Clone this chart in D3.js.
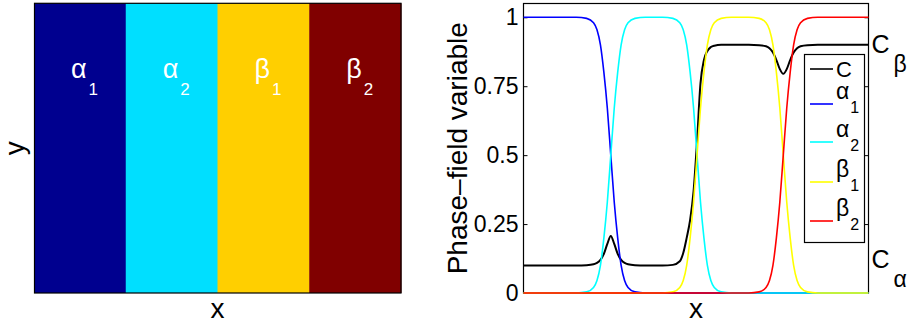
<!DOCTYPE html>
<html>
<head>
<meta charset="utf-8">
<script src="https://cdn.jsdelivr.net/npm/d3@7"></script>
<style>
  body { margin: 0; background: #fff; }
  svg { display: block; font-family: "Liberation Sans", Arial, Helvetica, sans-serif; }
</style>
</head>
<body>
<div id="chart"></div>
<script>
// left panel: the four phase regions
const phaseBase = ['α', 'α', 'β', 'β'];
const phaseSub = ['1', '2', '1', '2'];
const phaseFill = ['#00008F', '#00DFFF', '#FFCF00', '#800000'];

// right panel: profiles along x
const xs = [0, 5, 10,
  15.3, 18.3, 20.3, 21.3, 22.3, 23.3, 24.3, 25.3, 26.3, 27.3, 28.3, 29.3, 30.3, 32.3, 35.3,
  37.8,
  40.3, 43.3, 45.3, 46.3, 47.3, 48.3, 49.3, 50.3, 51.3, 52.3, 53.3, 54.3, 55.3, 57.3, 60.3,
  62.8,
  65.3, 68.3, 70.3, 71.3, 72.3, 73.3, 74.3, 75.3, 76.3, 77.3, 78.3, 79.3, 80.3, 82.3, 85.3,
  90, 95, 100];

const cValues = [0.1, 0.1, 0.1,
  0.1, 0.101, 0.104, 0.109, 0.12, 0.142, 0.178, 0.207, 0.178, 0.142, 0.12, 0.109, 0.104, 0.101, 0.1,
  0.1,
  0.1, 0.102, 0.115, 0.145, 0.2, 0.265, 0.37, 0.55, 0.76, 0.845, 0.878, 0.892, 0.897, 0.9, 0.9,
  0.9,
  0.9, 0.899, 0.895, 0.888, 0.872, 0.845, 0.812, 0.795, 0.812, 0.845, 0.872, 0.888, 0.895, 0.899, 0.9,
  0.9, 0.9, 0.9];

const alpha1 = [1, 1, 1,
  1, 0.996, 0.98, 0.955, 0.9, 0.8, 0.67, 0.5, 0.33, 0.2, 0.1, 0.045, 0.02, 0.004, 0,
  0,
  0, 0, 0, 0, 0, 0, 0, 0, 0, 0, 0, 0, 0, 0, 0,
  0,
  0, 0, 0, 0, 0, 0, 0, 0, 0, 0, 0, 0, 0, 0, 0,
  0, 0, 0];

const alpha2 = [0, 0, 0,
  0, 0.004, 0.02, 0.045, 0.1, 0.2, 0.33, 0.5, 0.67, 0.8, 0.9, 0.955, 0.98, 0.996, 1,
  1,
  1, 0.996, 0.98, 0.955, 0.9, 0.8, 0.67, 0.5, 0.33, 0.2, 0.1, 0.045, 0.02, 0.004, 0,
  0,
  0, 0, 0, 0, 0, 0, 0, 0, 0, 0, 0, 0, 0, 0, 0,
  0, 0, 0];

const beta1 = [0, 0, 0,
  0, 0, 0, 0, 0, 0, 0, 0, 0, 0, 0, 0, 0, 0, 0,
  0,
  0, 0.004, 0.02, 0.045, 0.1, 0.2, 0.33, 0.5, 0.67, 0.8, 0.9, 0.955, 0.98, 0.996, 1,
  1,
  1, 0.996, 0.98, 0.955, 0.9, 0.8, 0.67, 0.5, 0.33, 0.2, 0.1, 0.045, 0.02, 0.004, 0,
  0, 0, 0];

const beta2 = [0, 0, 0,
  0, 0, 0, 0, 0, 0, 0, 0, 0, 0, 0, 0, 0, 0, 0,
  0,
  0, 0, 0, 0, 0, 0, 0, 0, 0, 0, 0, 0, 0, 0, 0,
  0,
  0, 0.004, 0.02, 0.045, 0.1, 0.2, 0.33, 0.5, 0.67, 0.8, 0.9, 0.955, 0.98, 0.996, 1,
  1, 1, 1];

const seriesBase = ['C', 'α', 'α', 'β', 'β'];
const seriesSub = ['', '1', '2', '1', '2'];
const seriesColor = ['#000000', '#0000FF', '#00FFFF', '#FFFF00', '#FF0000'];
const seriesValues = [cValues, alpha1, alpha2, beta1, beta2];

const yTicks = [0, 0.25, 0.5, 0.75, 1];
const yTickLabels = ['0', '0.25', '0.5', '0.75', '1'];

// limit labels on the right side
const limitSub = ['β', 'α'];
const limitAt = [0.87, 0.09];

const W = 908, H = 324;
const svg = d3.select('#chart').append('svg')
  .attr('width', W).attr('height', H);

// ---------- left panel ----------
const L = {left: 34, right: 401, top: 3.3, bottom: 293};
const xb = d3.scaleBand().domain(d3.range(phaseFill.length)).range([L.left, L.right]);

svg.append('g').selectAll('rect')
  .data(phaseFill)
  .join('rect')
  .attr('x', (d, i) => xb(i))
  .attr('y', L.top)
  .attr('width', xb.bandwidth() + 0.5)
  .attr('height', L.bottom - L.top)
  .attr('fill', d => d);

svg.append('rect')
  .attr('x', L.left + 0.5).attr('y', L.top)
  .attr('width', L.right - L.left - 0.5).attr('height', L.bottom - L.top)
  .attr('fill', 'none').attr('stroke', '#000').attr('stroke-width', 1.2);

const phaseLbl = svg.append('g').selectAll('text')
  .data(phaseBase)
  .join('text')
  .attr('x', (d, i) => xb(i) + 37)
  .attr('y', 78)
  .attr('fill', '#fff')
  .style('font-size', '27px');
phaseLbl.append('tspan').text(d => d);
phaseLbl.append('tspan')
  .attr('dx', 2).attr('dy', 17)
  .style('font-size', '17px')
  .text((d, i) => phaseSub[i]);

svg.append('text')
  .attr('transform', `translate(24,${(L.top + L.bottom) / 2}) rotate(-90)`)
  .attr('text-anchor', 'middle')
  .style('font-size', '28px')
  .text('y');
svg.append('text')
  .attr('x', (L.left + L.right) / 2).attr('y', 318)
  .attr('text-anchor', 'middle')
  .style('font-size', '28px')
  .text('x');

// ---------- right panel ----------
const R = {left: 523.5, right: 868.5, top: 3.5, bottom: 293};
const x = d3.scaleLinear().domain([0, 100]).range([R.left, R.right]);
const y = d3.scaleLinear().domain([0, 1.05]).range([R.bottom, R.top]);

const yAxis = d3.axisLeft(y)
  .tickValues(yTicks)
  .tickFormat((d, i) => yTickLabels[i])
  .tickSizeInner(-4).tickSizeOuter(0).tickPadding(5);
const gy = svg.append('g').attr('transform', `translate(${R.left},0)`).call(yAxis);
gy.select('.domain').remove();
gy.selectAll('text').style('font-size', '23px').attr('fill', '#000')
  .style('font-family', '"Liberation Sans", Arial, sans-serif');

const yAxisR = d3.axisRight(y)
  .tickValues(yTicks).tickFormat('')
  .tickSizeInner(-4).tickSizeOuter(0);
const gyr = svg.append('g').attr('transform', `translate(${R.right},0)`).call(yAxisR);
gyr.select('.domain').remove();

svg.append('rect')
  .attr('x', R.left).attr('y', R.top)
  .attr('width', R.right - R.left).attr('height', R.bottom - R.top)
  .attr('fill', 'none').attr('stroke', '#000').attr('stroke-width', 1.2);

const line = d3.line()
  .x((d, i) => x(xs[i]))
  .y(d => y(d))
  .curve(d3.curveMonotoneX);

svg.append('g').selectAll('path')
  .data(seriesValues)
  .join('path')
  .attr('d', d => line(d))
  .attr('fill', 'none')
  .attr('stroke', (d, i) => seriesColor[i])
  .attr('stroke-width', (d, i) => i === 0 ? 2 : 1.6)
  .attr('stroke-linejoin', 'round');

svg.append('text')
  .attr('transform', `translate(467,${(R.top + R.bottom) / 2}) rotate(-90)`)
  .attr('text-anchor', 'middle')
  .style('font-size', '28px')
  .text('Phase\u2013field variable');
svg.append('text')
  .attr('x', (R.left + R.right) / 2).attr('y', 318)
  .attr('text-anchor', 'middle')
  .style('font-size', '28px')
  .text('x');

// C limit labels
const limLbl = svg.append('g').selectAll('text')
  .data(limitSub)
  .join('text')
  .attr('x', x(100) + 3)
  .attr('y', (d, i) => y(limitAt[i]))
  .style('font-size', '25px');
limLbl.append('tspan').text('C');
limLbl.append('tspan')
  .attr('dx', 4).attr('dy', 19)
  .style('font-size', '23px')
  .text(d => d);

// legend
const legendRows = [69, 104, 142, 182, 221];
const lg = svg.append('g');
lg.append('rect')
  .attr('x', 804.5).attr('y', 54.5).attr('width', 60).attr('height', 188)
  .attr('fill', '#fff').attr('stroke', '#000').attr('stroke-width', 1.2);
const items = lg.selectAll('g.item')
  .data(seriesBase)
  .join('g').attr('class', 'item')
  .attr('transform', (d, i) => `translate(0,${legendRows[i]})`);
items.append('line')
  .attr('x1', 810).attr('x2', 833)
  .attr('stroke', (d, i) => seriesColor[i]).attr('stroke-width', 1.6);
const itText = items.append('text')
  .attr('x', 836)
  .attr('y', (d, i) => seriesSub[i] ? -5 : 8)
  .style('font-size', (d, i) => seriesSub[i] ? '23px' : '22px');
itText.append('tspan').text(d => d);
itText.append('tspan')
  .attr('dx', 1).attr('dy', 14)
  .style('font-size', '16px')
  .text((d, i) => seriesSub[i]);
</script>
</body>
</html>
